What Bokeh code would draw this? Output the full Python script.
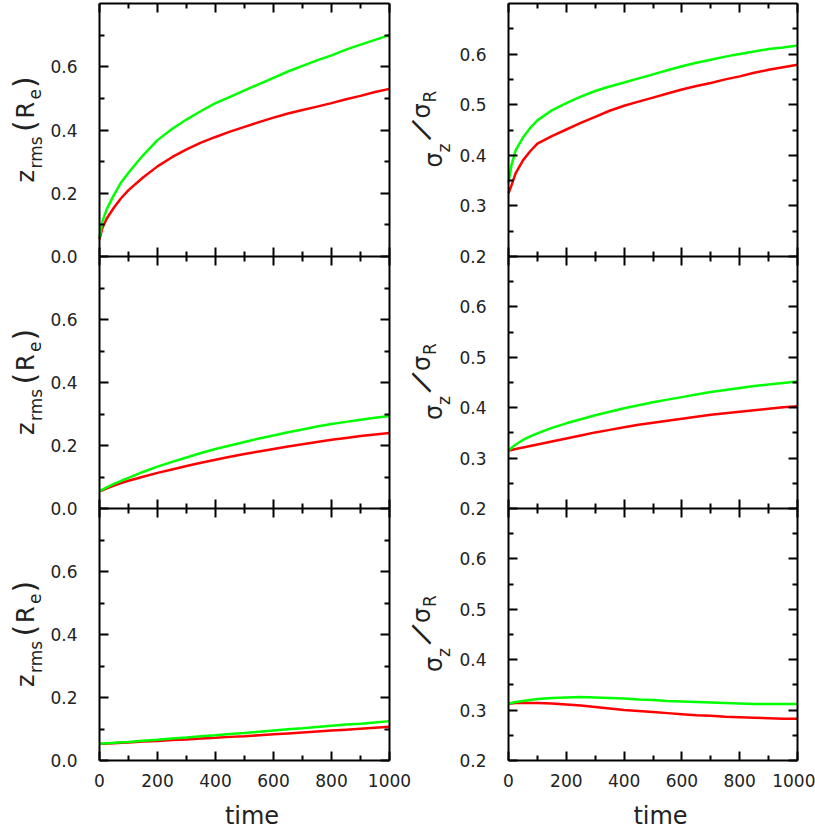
from bokeh.plotting import figure
from bokeh.models import Range1d, LinearAxis, FixedTicker, PrintfTickFormatter, Label
from bokeh.embed import file_html
from bokeh.resources import INLINE

# ---------------- data ----------------
time = [0, 10, 25, 50, 75, 100, 150, 200, 250, 300, 350, 400, 450, 500,
        550, 600, 650, 700, 750, 800, 850, 900, 950, 1000]

zrms_top_green = [0.060, 0.110, 0.150, 0.195, 0.235, 0.265, 0.320, 0.368, 0.403, 0.433, 0.460, 0.485,
                  0.505, 0.525, 0.545, 0.565, 0.585, 0.603, 0.620, 0.636, 0.654, 0.670, 0.685, 0.700]
zrms_top_red = [0.055, 0.090, 0.120, 0.155, 0.185, 0.210, 0.250, 0.285, 0.314, 0.339, 0.360, 0.378,
                0.395, 0.410, 0.425, 0.439, 0.452, 0.463, 0.474, 0.485, 0.497, 0.508, 0.520, 0.530]
zrms_mid_green = [0.055, 0.060, 0.067, 0.078, 0.088, 0.097, 0.116, 0.133, 0.148, 0.162, 0.176, 0.189,
                  0.200, 0.211, 0.222, 0.232, 0.242, 0.251, 0.260, 0.268, 0.275, 0.282, 0.288, 0.294]
zrms_mid_red = [0.055, 0.058, 0.064, 0.073, 0.081, 0.088, 0.101, 0.113, 0.124, 0.135, 0.145, 0.155,
                0.164, 0.173, 0.181, 0.189, 0.197, 0.204, 0.211, 0.218, 0.224, 0.230, 0.235, 0.240]
zrms_bot_green = [0.053, 0.054, 0.055, 0.056, 0.058, 0.059, 0.063, 0.066, 0.070, 0.073, 0.077, 0.080,
                  0.084, 0.087, 0.091, 0.095, 0.099, 0.102, 0.106, 0.110, 0.114, 0.117, 0.121, 0.125]
zrms_bot_red = [0.053, 0.053, 0.054, 0.055, 0.056, 0.057, 0.060, 0.062, 0.065, 0.067, 0.070, 0.072,
                0.075, 0.077, 0.080, 0.083, 0.086, 0.089, 0.092, 0.095, 0.098, 0.101, 0.104, 0.107]

sig_top_green = [0.346, 0.380, 0.410, 0.435, 0.454, 0.469, 0.489, 0.503, 0.516, 0.527, 0.536, 0.544,
                 0.552, 0.560, 0.568, 0.576, 0.583, 0.589, 0.595, 0.600, 0.605, 0.610, 0.613, 0.617]
sig_top_red = [0.325, 0.340, 0.365, 0.390, 0.408, 0.423, 0.438, 0.451, 0.464, 0.476, 0.488, 0.498,
               0.506, 0.514, 0.522, 0.530, 0.537, 0.543, 0.550, 0.556, 0.563, 0.569, 0.574, 0.579]
sig_mid_green = [0.315, 0.320, 0.327, 0.336, 0.343, 0.349, 0.360, 0.369, 0.377, 0.385, 0.392, 0.399,
                 0.405, 0.411, 0.416, 0.421, 0.426, 0.431, 0.435, 0.439, 0.443, 0.446, 0.449, 0.452]
sig_mid_red = [0.315, 0.316, 0.318, 0.321, 0.324, 0.327, 0.333, 0.339, 0.345, 0.351, 0.356, 0.361,
               0.366, 0.370, 0.374, 0.378, 0.382, 0.386, 0.389, 0.392, 0.395, 0.398, 0.401, 0.403]
sig_bot_green = [0.313, 0.314, 0.316, 0.318, 0.320, 0.322, 0.324, 0.325, 0.326, 0.325, 0.324, 0.323,
                 0.321, 0.320, 0.318, 0.317, 0.316, 0.315, 0.314, 0.313, 0.312, 0.312, 0.312, 0.312]
sig_bot_red = [0.313, 0.313, 0.314, 0.314, 0.314, 0.314, 0.313, 0.311, 0.309, 0.306, 0.303, 0.300,
               0.298, 0.296, 0.294, 0.292, 0.290, 0.289, 0.287, 0.286, 0.285, 0.284, 0.283, 0.283]

x_ticks = [0, 200, 400, 600, 800, 1000]
x_minor = [100, 300, 500, 700, 900]
z_ticks = [0.0, 0.2, 0.4, 0.6]
z_minor = [0.1, 0.3, 0.5, 0.7]
s_ticks = [0.2, 0.3, 0.4, 0.5, 0.6]
s_minor = [0.25, 0.35, 0.45, 0.55, 0.65]

GREEN = "#00ff00"
RED = "#ff0000"
TXT = "#222222"
FONT = "DejaVu Sans"

# ---------------- geometry (canvas pixels, frame = whole canvas) ----------------
W, H = 815, 830
LX0, LX1 = 99, 389             # left column panels
RX0, RX1 = 508, 797            # right column panels
ROWS = [(3, 256), (256, 508), (508, 760)]   # (top, bottom) of each row


def xrange_for(x0, x1):
    s = 1000 / (x1 - x0)
    return Range1d(-x0 * s, (W - x0) * s)


def yrange_for(top, bot, lo, hi):
    s = (hi - lo) / (bot - top)
    return Range1d(lo - (H - bot) * s, lo + bot * s)


p = figure(frame_width=W, frame_height=H, min_border=0,
           min_border_left=0, min_border_right=0, min_border_top=0, min_border_bottom=0,
           x_range=Range1d(0, 1), y_range=Range1d(0, 1),
           x_axis_type=None, y_axis_type=None,
           output_backend="svg", toolbar_location=None)
p.outline_line_color = None
p.background_fill_color = "white"
p.border_fill_color = "white"

p.extra_x_ranges = {"L": xrange_for(LX0, LX1), "R": xrange_for(RX0, RX1)}
yr = {}
for i, (t, b) in enumerate(ROWS):
    yr[f"L{i}"] = yrange_for(t, b, 0.0, 0.8)
    yr[f"R{i}"] = yrange_for(t, b, 0.2, 0.7)
p.extra_y_ranges = yr


def style_axis(ax, labels, tin, tout, min_in, min_out):
    ax.axis_line_width = 2
    ax.axis_line_color = "black"
    ax.major_tick_line_width = 2
    ax.minor_tick_line_width = 2
    ax.major_tick_in = tin
    ax.major_tick_out = tout
    ax.minor_tick_in = min_in
    ax.minor_tick_out = min_out
    ax.major_label_text_font = FONT
    ax.major_label_text_font_size = "17px"
    ax.major_label_text_color = TXT if labels else None


def vaxis(side, xr, yname, loc, ticks, minor, lo, hi, labels):
    ax = LinearAxis(x_range_name=xr, y_range_name=yname, fixed_location=loc,
                    ticker=FixedTicker(ticks=ticks, minor_ticks=minor),
                    formatter=PrintfTickFormatter(format="%.1f"), bounds=(lo, hi))
    style_axis(ax, labels, 9, 0, 5, 0)
    ax.major_label_standoff = 22
    p.add_layout(ax, side)


def haxis(side, xr, yname, loc, labels, both):
    ax = LinearAxis(x_range_name=xr, y_range_name=yname, fixed_location=loc,
                    ticker=FixedTicker(ticks=x_ticks, minor_ticks=x_minor),
                    formatter=PrintfTickFormatter(format="%d"), bounds=(0, 1000))
    style_axis(ax, labels, 9, 9 if both else 0, 5, 5 if both else 0)
    ax.major_label_standoff = 13
    p.add_layout(ax, side)


columns = [
    ("L", (0.0, 0.8), z_ticks, z_minor,
     [(zrms_top_green, zrms_top_red), (zrms_mid_green, zrms_mid_red), (zrms_bot_green, zrms_bot_red)]),
    ("R", (0.2, 0.7), s_ticks, s_minor,
     [(sig_top_green, sig_top_red), (sig_mid_green, sig_mid_red), (sig_bot_green, sig_bot_red)]),
]

for xr, (lo, hi), ticks, minor, series in columns:
    for i in range(3):
        yname = f"{xr}{i}"
        vaxis("left", xr, yname, 0, ticks, minor, lo, hi, True)
        vaxis("right", xr, yname, 1000, ticks, minor, lo, hi, False)
        g, r = series[i]
        p.line(time, r, line_color=RED, line_width=2.5, x_range_name=xr, y_range_name=yname)
        p.line(time, g, line_color=GREEN, line_width=2.5, x_range_name=xr, y_range_name=yname)
    haxis("above", xr, f"{xr}0", hi, False, False)       # top edge
    haxis("below", xr, f"{xr}0", lo, False, True)        # row 1 / row 2 boundary
    haxis("below", xr, f"{xr}1", lo, False, True)        # row 2 / row 3 boundary
    haxis("below", xr, f"{xr}2", lo, True, False)        # bottom edge with labels


def piece(text, ax_abs, ay_abs, size, angle=90, align="left", baseline="alphabetic"):
    p.add_layout(Label(x=ax_abs, y=H - ay_abs, x_units="screen", y_units="screen",
                       text=text, angle=angle, angle_units="deg",
                       text_font=FONT, text_font_size=f"{size}px",
                       text_align=align, text_baseline=baseline, text_color=TXT))


for (t, b) in ROWS:
    c = (t + b) / 2
    # z_rms(R_e)
    piece("z", 25, c + 52.5, 24)
    piece("rms", 35, c + 38.5, 17)
    piece("(", 24, c + 2.0, 30)
    piece("R", 25, c - 11.5, 24)
    piece("e", 34, c - 30.5, 17)
    piece(")", 24, c - 42.0, 30)
    # sigma_z / sigma_R
    piece("σ", 433, c + 37.5, 24)
    piece("z", 443, c + 22.5, 17)
    piece("/", 420, c - 0.5, 30, angle=62, align="center", baseline="middle")
    piece("σ", 421, c - 11.5, 24)
    piece("R", 429, c - 27.5, 17)

for cx in (251.5, 660):
    piece("time", cx, 801, 24, angle=0, align="center", baseline="top")

open("out.html", "w").write(file_html(p, INLINE))
